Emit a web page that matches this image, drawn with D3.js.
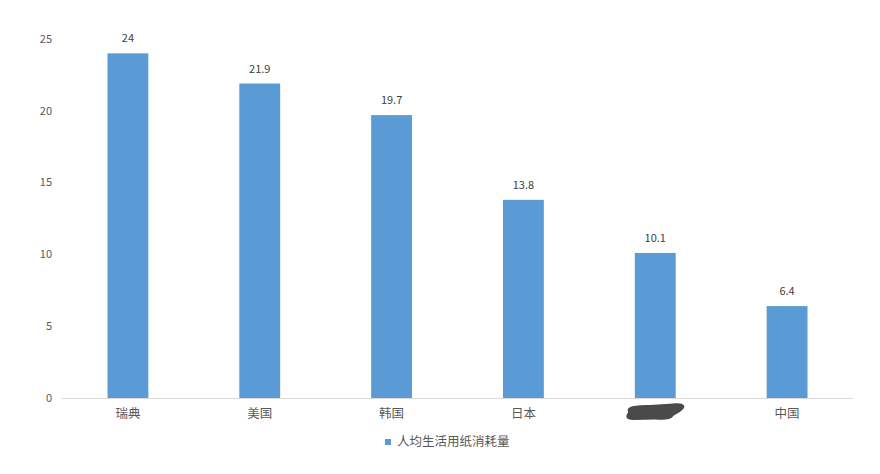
<!DOCTYPE html>
<html><head><meta charset="utf-8">
<script src="https://cdn.jsdelivr.net/npm/d3@7"></script>
<style>body{margin:0;background:#fff;} svg{display:block;}</style>
</head><body>
<svg id="c" width="880" height="474"></svg>
<script>
const categories = ["瑞典","美国","韩国","日本","其他","中国"];
const values = [24, 21.9, 19.7, 13.8, 10.1, 6.4];
const yTicks = [0,5,10,15,20,25];
const seriesName = "人均生活用纸消耗量";
const hiddenCategory = "其他";

const svg = d3.select("#c");
const font = "'Noto Sans CJK SC','Noto Sans',sans-serif";
const x = d3.scaleBand().domain(categories).range([62,853]).paddingInner(0.69).paddingOuter(0.345);
const y = d3.scaleLinear().domain([0,25]).range([398,39]);

// y axis labels
svg.append("g").selectAll("text").data(yTicks).join("text")
  .attr("x",52).attr("y",d=>y(d)).attr("dy","0.35em").attr("text-anchor","end")
  .attr("font-family",font).attr("font-size",11).attr("fill","#595959").text(d=>d);

// bars
svg.append("g").selectAll("rect").data(values).join("rect")
  .attr("x",(d,i)=>x(categories[i])).attr("width",x.bandwidth())
  .attr("y",d=>y(d)).attr("height",d=>y(0)-y(d)).attr("fill","#5B9BD5");

// baseline
svg.append("line").attr("x1",62).attr("x2",853).attr("y1",y(0)+0.5).attr("y2",y(0)+0.5)
  .attr("stroke","#d9d9d9").attr("stroke-width",1);

// data labels
svg.append("g").selectAll("text").data(values).join("text")
  .attr("x",(d,i)=>x(categories[i])+x.bandwidth()/2).attr("y",d=>y(d)-11)
  .attr("text-anchor","middle").attr("font-family",font).attr("font-size",11)
  .attr("fill","#404040").text(d=>d);

// category labels
svg.append("g").selectAll("text").data(categories).join("text")
  .attr("x",d=>x(d)+x.bandwidth()/2).attr("y",418).attr("text-anchor","middle")
  .attr("font-family",font).attr("font-size",12.5).attr("fill","#595959").text(d=>d);

// redaction blob over hidden category
const cx = x(hiddenCategory)+x.bandwidth()/2;
svg.append("path")
  .attr("d",`M${cx-27},${412} C${cx-30},${406} ${cx-20},${405} ${cx-5},${405} L${cx+18},${403.5}
    C${cx+28},${402} ${cx+32},${406} ${cx+27},${410} C${cx+24},${413} ${cx+20},${414} ${cx+18},${416}
    C${cx+16},${420} ${cx+8},${420} ${cx},${419.5} L${cx-22},${420} C${cx-30},${420} ${cx-30},${416} ${cx-27},${412} Z`)
  .attr("fill","#4a4a4a");

// legend
svg.append("rect").attr("x",385).attr("y",439).attr("width",6).attr("height",6).attr("fill","#5B9BD5");
svg.append("text").attr("x",397).attr("y",442).attr("dy","0.35em")
  .attr("font-family",font).attr("font-size",12.5).attr("fill","#595959").text(seriesName);
</script>
</body></html>
